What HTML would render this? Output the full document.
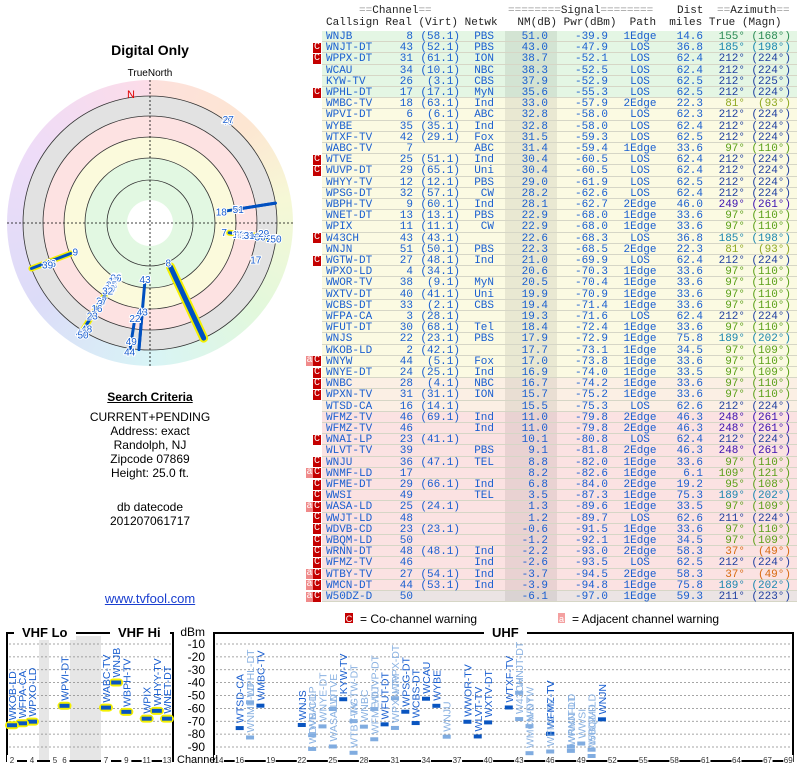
<!DOCTYPE html>
<html><head><meta charset="utf-8">
<style>
body{margin:0;width:800px;height:768px;background:#fff;position:relative;overflow:hidden;font-family:"Liberation Sans",sans-serif;}
.abs{position:absolute;}
.ctr{position:absolute;left:0;width:300px;text-align:center;font-size:12px;color:#000;}
#table{position:absolute;left:0;top:0;width:800px;height:610px;font-family:"Liberation Mono",monospace;font-size:11px;}
.cell{position:absolute;white-space:pre;line-height:11px;}
.hdr{position:absolute;white-space:pre;font-family:"Liberation Mono",monospace;font-size:11px;color:#222;}
.eq{color:#999;}
</style></head><body>
<div class="ctr" style="top:42px;font-size:14px;font-weight:bold;">Digital Only</div>
<div class="ctr" style="top:68px;font-size:10px;">TrueNorth</div>
<svg id="polar" class="abs" style="left:0;top:0" width="300" height="380"></svg>
<div class="ctr" style="top:390px;font-weight:bold;text-decoration:underline;">Search Criteria</div>
<div class="ctr" style="top:410px;line-height:14px;">CURRENT+PENDING<br>Address: exact<br>Randolph, NJ<br>Zipcode 07869<br>Height: 25.0 ft.</div>
<div class="ctr" style="top:500px;line-height:14px;">db datecode<br>201207061717</div>
<div class="ctr" style="top:591px;font-size:13px;color:#1a3fd0;text-decoration:underline;">www.tvfool.com</div>

<div id="table">
<div class="hdr" style="left:326px;top:5px"><span class="eq">     ==</span>Channel<span class="eq">==</span></div>
<div class="hdr" style="left:508px;top:5px"><span class="eq">========</span>Signal<span class="eq">========</span></div>
<div class="hdr" style="left:677px;top:5px">Dist</div>
<div class="hdr" style="left:717px;top:5px"><span class="eq">==</span>Azimuth<span class="eq">==</span></div>
<div class="hdr" style="left:326px;top:17px">Callsign Real (Virt) Netwk   NM(dB) Pwr(dBm)  Path  miles True (Magn)</div>
</div>

<svg id="bottom" class="abs" style="left:0;top:610px" width="800" height="158"></svg>

<script>
const calls=["WNJB","WNJT-DT","WPPX-DT","WCAU","KYW-TV","WPHL-DT","WMBC-TV","WPVI-DT","WYBE","WTXF-TV","WABC-TV","WTVE","WUVP-DT","WHYY-TV","WPSG-DT","WBPH-TV","WNET-DT","WPIX","W43CH","WNJN","WGTW-DT","WPXO-LD","WWOR-TV","WXTV-DT","WCBS-DT","WFPA-CA","WFUT-DT","WNJS","WKOB-LD","WNYW","WNYE-DT","WNBC","WPXN-TV","WTSD-CA","WFMZ-TV","WFMZ-TV","WNAI-LP","WLVT-TV","WNJU","WNMF-LD","WFME-DT","WWSI","WASA-LD","WWJT-LD","WDVB-CD","WBQM-LD","WRNN-DT","WFMZ-TV","WTBY-TV","WMCN-DT","W50DZ-D"];
const realCh=[8,43,31,34,26,17,18,6,35,42,7,25,29,12,32,9,13,11,43,51,27,4,38,40,33,3,30,22,2,44,24,28,31,16,46,46,23,39,36,17,29,49,25,48,23,50,48,46,27,44,50];
const virtCh=["58.1","52.1","61.1","10.1","3.1","17.1","63.1","6.1","35.1","29.1","","51.1","65.1","12.1","57.1","60.1","13.1","11.1","43.1","50.1","48.1","34.1","9.1","41.1","2.1","28.1","68.1","23.1","42.1","5.1","25.1","4.1","31.1","14.1","69.1","","41.1","","47.1","","66.1","","24.1","","23.1","","48.1","","54.1","53.1",""];
const netwk=["PBS","PBS","ION","NBC","CBS","MyN","Ind","ABC","Ind","Fox","ABC","Ind","Uni","PBS","CW","Ind","PBS","CW","","PBS","Ind","","MyN","Uni","CBS","","Tel","PBS","","Fox","Ind","NBC","ION","","Ind","Ind","","PBS","TEL","","Ind","TEL","","","","","Ind","Ind","Ind","Ind",""];
const nmDb=[51.0,43.0,38.7,38.3,37.9,35.6,33.0,32.8,32.8,31.5,31.4,30.4,30.4,29.0,28.2,28.1,22.9,22.9,22.6,22.3,21.0,20.6,20.5,19.9,19.4,19.3,18.4,17.9,17.7,17.0,16.9,16.7,15.7,15.5,11.0,11.0,10.1,9.1,8.8,8.2,6.8,3.5,1.3,1.2,-0.6,-1.2,-2.2,-2.6,-3.7,-3.9,-6.1];
const pwrDbm=[-39.9,-47.9,-52.1,-52.5,-52.9,-55.3,-57.9,-58.0,-58.0,-59.3,-59.4,-60.5,-60.5,-61.9,-62.6,-62.7,-68.0,-68.0,-68.3,-68.5,-69.9,-70.3,-70.4,-70.9,-71.4,-71.6,-72.4,-72.9,-73.1,-73.8,-74.0,-74.2,-75.2,-75.3,-79.8,-79.8,-80.8,-81.8,-82.0,-82.6,-84.0,-87.3,-89.6,-89.7,-91.5,-92.1,-93.0,-93.5,-94.5,-94.8,-97.0];
const pathT=["1Edge","LOS","LOS","LOS","LOS","LOS","2Edge","LOS","LOS","LOS","1Edge","LOS","LOS","LOS","LOS","2Edge","1Edge","1Edge","LOS","2Edge","LOS","1Edge","1Edge","1Edge","1Edge","LOS","1Edge","1Edge","1Edge","1Edge","1Edge","1Edge","1Edge","LOS","2Edge","2Edge","LOS","2Edge","1Edge","1Edge","2Edge","1Edge","1Edge","LOS","1Edge","1Edge","2Edge","LOS","2Edge","1Edge","1Edge"];
const distMi=[14.6,36.8,62.4,62.4,62.5,62.5,22.3,62.3,62.4,62.5,33.6,62.4,62.4,62.5,62.4,46.0,33.6,33.6,36.8,22.3,62.4,33.6,33.6,33.6,33.6,62.4,33.6,75.8,34.5,33.6,33.5,33.6,33.6,62.6,46.3,46.3,62.4,46.3,33.6,6.1,19.2,75.3,33.5,62.6,33.6,34.5,58.3,62.5,58.3,75.8,59.3];
const azTrue=[155,185,212,212,212,212,81,212,212,212,97,212,212,212,212,249,97,97,185,81,212,97,97,97,97,212,97,189,97,97,97,97,97,212,248,248,212,248,97,109,95,189,97,211,97,97,37,212,37,189,211];
const azMagn=[168,198,224,224,225,224,93,224,224,224,110,224,224,224,224,261,110,110,198,93,224,110,110,110,110,224,110,202,109,110,109,110,110,224,261,261,224,261,110,121,108,202,109,224,110,109,49,224,49,202,223];
const warn=["","c","c","","","c","","","","","","c","c","","","","","","c","","c","","","","","","","","","ac","c","c","c","","","","c","","c","ac","c","c","ac","c","c","c","c","c","ac","ac","ac"];

const NS="http://www.w3.org/2000/svg";
function azColor(a){
  if(a<60) return "#d86a10";
  if(a<90) return "#8fa820";
  if(a<120) return "#5aa018";
  if(a<170) return "#2a8a55";
  if(a<200) return "#1a86b0";
  if(a<230) return "#1f3fa0";
  return "#3a10b0";
}
function rowBg(i){
  if(i<6) return "#e4f6e4";
  if(i<31) return "#fbfae2";
  if(i<34) return "#fbefe4";
  if(i<50) return "#fbe2e2";
  return "#ebe4e4";
}
// ---- table ----
const tbl=document.getElementById('table');
const RH=11.2, TOP=31;
function cell(parent,txt,style,name){
  const d=document.createElement('div');
  d.className='cell';
  d.textContent=txt;
  d.setAttribute('style',style);
  
  
  parent.appendChild(d);
  return d;
}
calls.forEach((c,i)=>{
  const y=TOP+i*RH;
  const row=document.createElement('div');
  row.className='abs';
  row.setAttribute('style',`left:322px;top:${y}px;width:475px;height:${RH}px;background:${rowBg(i)};border-bottom:1px solid #d6d6c6;box-sizing:border-box;`);
  
  
  tbl.appendChild(row);
  const band=document.createElement('div');
  band.className='abs';
  band.setAttribute('style',`left:183px;top:0;width:52px;height:100%;background:rgba(0,0,0,0.07);`);
  
  
  row.appendChild(band);
  const col="#1a5fd0", t=1;
  cell(row,c,`left:4px;top:${t}px;color:${col}`,'callsign');
  cell(row,String(realCh[i]),`right:384px;top:${t}px;color:${col}`,'real-channel');
  if(virtCh[i]) cell(row,"("+virtCh[i]+")",`right:337px;top:${t}px;color:${col}`,'virtual-channel');
  if(netwk[i]) cell(row,netwk[i],`right:303px;top:${t}px;color:${col}`,'network');
  cell(row,nmDb[i].toFixed(1),`right:249px;top:${t}px;color:${col}`,'nm-db');
  cell(row,pwrDbm[i].toFixed(1),`right:189px;top:${t}px;color:${col}`,'power-dbm');
  cell(row,pathT[i],`left:${318-pathT[i].length*3.3}px;top:${t}px;color:${col}`,'path');
  cell(row,distMi[i].toFixed(1),`right:94px;top:${t}px;color:${col}`,'distance');
  const ac=azColor(azTrue[i]);
  cell(row,azTrue[i]+"°",`right:52px;top:${t}px;color:${ac}`,'azimuth-true');
  cell(row,"("+azMagn[i]+"°)",`right:6px;top:${t}px;color:${ac}`,'azimuth-magnetic');
  if(warn[i].includes('c')){
    const b=document.createElement('div');
    b.className='cell';
    b.textContent='C';
    b.setAttribute('style',`left:313px;top:${y+0.5}px;width:8px;height:10px;background:#c40000;color:#fff;font-size:10px;text-align:center;line-height:10px;`);
    
    
    tbl.appendChild(b);
  }
  if(warn[i].includes('a')){
    const b=document.createElement('div');
    b.className='cell';
    b.textContent='a';
    b.setAttribute('style',`left:306px;top:${y+0.5}px;width:7px;height:10px;background:#f08a8a;color:#fff;font-size:10px;text-align:center;line-height:10px;`);
    
    
    tbl.appendChild(b);
  }
});

// ---- polar ----
const P=document.getElementById('polar');
const cx=150, cy=223;
function mk(parent,tag,attrs){const e=document.createElementNS(NS,tag);for(const k in attrs)e.setAttribute(k,attrs[k]);parent.appendChild(e);return e;}
const fo=mk(P,'foreignObject',{x:cx-143,y:cy-143,width:286,height:286});


const wd=document.createElement('div');
wd.setAttribute('style','width:286px;height:286px;border-radius:50%;background:conic-gradient(#fde0dc,#fde6d2 45deg,#f6f8d6 80deg,#e2f8dc 130deg,#d8f4f6 180deg,#dcdcf8 235deg,#eedcf8 300deg,#fcdce8 360deg);');
fo.appendChild(wd);
const rings=[[127,"#e2e2e2"],[107,"#fde2e2"],[86,"#fbfadc"],[65,"#e2f8e2"],[23,"#ffffff"]];
rings.forEach(([r,f])=>{const c=mk(P,'circle',{cx,cy,r,fill:f});});
[127,107,86,65,43].forEach(r=>{const c=mk(P,'circle',{cx,cy,r,fill:'none',stroke:'#333','stroke-width':0.8});});
const hx=mk(P,'line',{x1:7,y1:cy,x2:293,y2:cy,stroke:'#000','stroke-dasharray':'2,2','stroke-width':0.8});

const vx=mk(P,'line',{x1:cx,y1:80,x2:cx,y2:366,stroke:'#000','stroke-dasharray':'2,2','stroke-width':0.8});

const nt=mk(P,'text',{x:127,y:98,fill:'#e00000','font-size':11});nt.textContent='N';

function rS(nm){return Math.max(30,Math.min(135,130-1.6*nm));}
function pxy(az,r){const a=az*Math.PI/180;return [cx+r*Math.sin(a),cy-r*Math.cos(a)];}
calls.forEach((c,i)=>{
  if(nmDb[i]<15) return;
  const r0=rS(nmDb[i]);
  const [x1,y1]=pxy(azTrue[i],r0),[x2,y2]=pxy(azTrue[i],127);
  const vhf=realCh[i]<=13;
  if(vhf){const o=mk(P,'line',{x1,y1,x2,y2,stroke:'#f4f000','stroke-width':realCh[i]==8?9:6,'stroke-linecap':'round'});}
  const l=mk(P,'line',{x1,y1,x2,y2,stroke:'#0050c0','stroke-width':realCh[i]==8?5:3,'stroke-linecap':'round'});
  
  
});
calls.forEach((c,i)=>{
  const r=rS(nmDb[i])-5;
  const [x,y]=pxy(azTrue[i],r);
  const t=mk(P,'text',{x,y:y+4,'text-anchor':'middle','font-size':10,fill:'#1a5fd0',stroke:'#fff','stroke-width':2,'paint-order':'stroke'});
  t.textContent=realCh[i];
  
  
});

// ---- bottom spectrum chart ----
const B=document.getElementById('bottom');
const OY=-610;
function uhfX(ch){return 219+(ch-14)*10.35;}
function vhfX(ch){if(ch<=4)return 12+(ch-2)*10;if(ch<=6)return 55+(ch-5)*9.5;return 106+(ch-7)*10.17;}
function yDbm(v){return 644+(-10-v)*1.2875+OY;}
const dbTicks=[-10,-20,-30,-40,-50,-60,-70,-80,-90];
const uhfTicks=[14,16,19,22,25,28,31,34,37,40,43,46,49,52,55,58,61,64,67,69];
const vhfTicks=[2,4,5,6,7,9,11,13];
// legend
let g=mk(B,'rect',{x:345,y:3,width:8,height:10,fill:'#c40000'});
g=mk(B,'text',{x:349,y:12,fill:'#fff','font-size':9,'text-anchor':'middle'});g.textContent='C';
g=mk(B,'text',{x:360,y:13,'font-size':12});g.textContent='= Co-channel warning';
g=mk(B,'rect',{x:558,y:3,width:7,height:10,fill:'#f4a0a0'});
g=mk(B,'text',{x:561.5,y:12,fill:'#fff','font-size':9,'text-anchor':'middle'});g.textContent='a';
g=mk(B,'text',{x:572,y:13,'font-size':12});g.textContent='= Adjacent channel warning';
// bands
[[39,49],[70,101]].forEach(([a,b])=>{const r=mk(B,'rect',{x:a,y:26,width:b-a,height:124,fill:'#e6e6e6'});});
// grid & y labels
dbTicks.forEach(v=>{
  const y=yDbm(v);
  let l=mk(B,'line',{x1:9,y1:y,x2:171,y2:y,stroke:'#888','stroke-dasharray':'2,2','stroke-width':0.8});
  l=mk(B,'line',{x1:216,y1:y,x2:791,y2:y,stroke:'#888','stroke-dasharray':'2,2','stroke-width':0.8});
  const t=mk(B,'text',{x:205,y:y+4,'text-anchor':'end','font-size':12});t.textContent=v;
});
g=mk(B,'text',{x:205,y:26,'text-anchor':'end','font-size':12});g.textContent='dBm';
// frames
g=mk(B,'rect',{x:7,y:23,width:166,height:128,fill:'none',stroke:'#000','stroke-width':2});
g=mk(B,'rect',{x:214,y:23,width:579,height:128,fill:'none',stroke:'#000','stroke-width':2});
[[14,"VHF Lo",22,52],[110,"VHF Hi",118,50],[484,"UHF",492,33]].forEach(([bx,t,tx,w])=>{
  let r=mk(B,'rect',{x:bx,y:16,width:w+10,height:14,fill:'#fff'});
  const e=mk(B,'text',{x:tx,y:27,'font-size':13,'font-weight':'bold'});e.textContent=t;
});
// x tick labels
function xTick(x,t){
  let r=mk(B,'rect',{x:x-5,y:145,width:10,height:10,fill:'#fff'});
  const e=mk(B,'text',{x,y:153,'text-anchor':'middle','font-size':8,fill:'#333'});e.textContent=t;
}
vhfTicks.forEach(c=>xTick(vhfX(c),c));
uhfTicks.forEach(c=>xTick(uhfX(c),c));
g=mk(B,'text',{x:177,y:153,'font-size':11});g.textContent='Channel';
// bars
calls.forEach((c,i)=>{
  const ch=realCh[i], vhf=ch<=13;
  const x=vhf?vhfX(ch):uhfX(ch), y=yDbm(pwrDbm[i]);
  const weak=warn[i]!=="";
  const col=weak?'#80ace0':'#0a55c0';
  const w=vhf?10:8;
  if(vhf){const h=mk(B,'rect',{x:x-w/2-2,y:y-4,width:w+4,height:8,rx:4,fill:'#f4f000'});}
  const r=mk(B,'rect',{x:x-w/2,y:y-2,width:w,height:4,fill:col});
  
  
  const t=mk(B,'text',{transform:`translate(${x+4},${y-5}) rotate(-90)`,'font-size':10.5,fill:weak?'#8ab2e2':'#1a5fd0'});
  t.textContent=c;
  
  
});
</script>
</body></html>
